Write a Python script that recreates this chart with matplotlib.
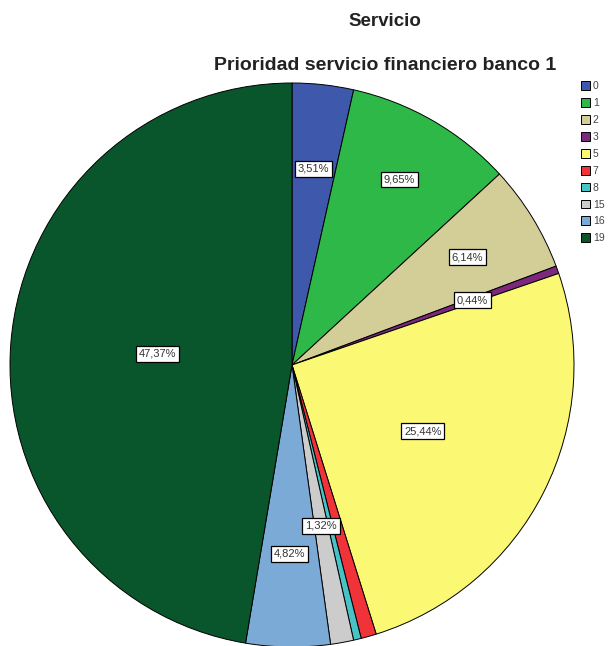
import matplotlib.pyplot as plt
import numpy as np

# Prioridad servicio financiero banco 1 (% de respuestas)
categorias = ['0', '1', '2', '3', '5', '7', '8', '15', '16', '19']
porcentajes = [3.51, 9.65, 6.14, 0.44, 25.44, 0.88, 0.44, 1.32, 4.82, 47.37]
etiquetas = ['3,51%', '9,65%', '6,14%', '0,44%', '25,44%', None, None, '1,32%', '4,82%', '47,37%']

colores = ['#3E58AC', '#2EB848', '#D3CE97', '#7C287D', '#FBF873',
           '#EF3338', '#48C2C5', '#CCCCCC', '#7AAAD5', '#0A562C']
# distancia radial de cada etiqueta
radio_etq = [0.70, 0.76, 0.73, 0.68, 0.52, 0.6, 0.6, 0.58, 0.67, 0.48]

plt.rcParams['font.family'] = ['Liberation Sans', 'DejaVu Sans']

fig = plt.figure(figsize=(6.14, 6.46), dpi=100)
ax = fig.add_axes([10 / 614, -1 / 646, 564 / 614, 564 / 646])

wedges, _ = ax.pie(porcentajes, colors=colores, startangle=90, counterclock=False,
                   radius=1, wedgeprops=dict(edgecolor='black', linewidth=0.7))
ax.set_xlim(-1, 1)
ax.set_ylim(-1, 1)
ax.set_aspect('equal')
ax.axis('off')

for w, txt, r in zip(wedges, etiquetas, radio_etq):
    if txt is None:
        continue
    ang = np.deg2rad((w.theta1 + w.theta2) / 2)
    ax.text(r * np.cos(ang), r * np.sin(ang), txt, ha='center', va='center',
            fontsize=8, color='#333333',
            bbox=dict(boxstyle='square,pad=0.25', facecolor='white',
                      edgecolor='black', linewidth=0.9))

fig.text(0.627, 0.967, 'Servicio', ha='center', va='center',
         fontsize=13.5, fontweight='bold', color='#222222')
fig.text(0.627, 0.898, 'Prioridad servicio financiero banco 1', ha='center', va='center',
         fontsize=14, fontweight='bold', color='#222222')

leg = fig.legend(wedges, categorias, loc='upper left', bbox_to_anchor=(0.946, 0.874),
                 frameon=False, fontsize=7.5, handlelength=0.9, handleheight=0.9,
                 handletextpad=0.25, labelspacing=0.66, borderpad=0, borderaxespad=0)
for t in leg.get_texts():
    t.set_color('#444444')

fig.savefig('out.png', dpi=100)
